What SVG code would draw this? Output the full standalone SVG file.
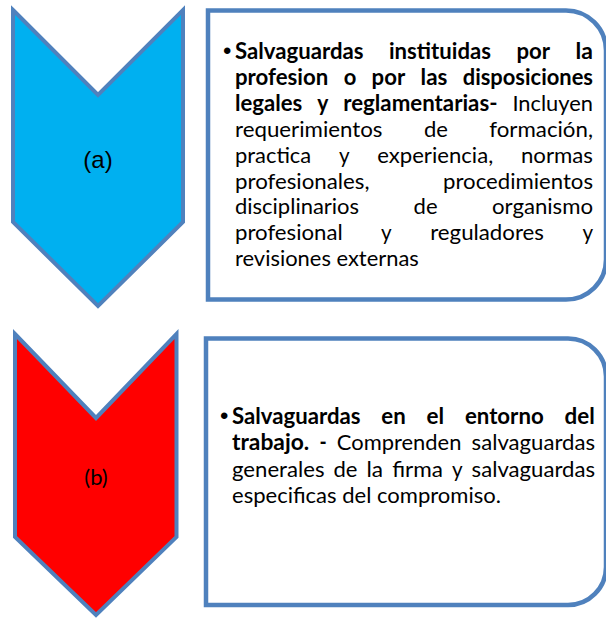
<svg xmlns="http://www.w3.org/2000/svg" width="606" height="621" viewBox="0 0 606 621">
<style>
.chev{stroke:#4F81BD;stroke-width:4;stroke-linejoin:miter}
.box{fill:#FFFFFF;stroke:#4F81BD;stroke-width:4.5}
.t{font-family:Lato,"Open Sans",sans-serif;font-size:22px;fill:#000}
.b{font-weight:bold}
.blt{font-family:"Liberation Sans",Arial,sans-serif;font-size:24px;fill:#000}
.lbl{font-family:"Liberation Sans",Arial,sans-serif;font-size:24px;text-anchor:middle;fill:#000}
.lblb{font-family:Lato,"Open Sans",sans-serif;font-size:22px;text-anchor:middle;fill:#000}
</style>
<rect width="606" height="621" fill="#FFFFFF"/>
<g id="connectors"></g>
<g id="chevron-a">
<path class="chev" fill="#00B0F0" d="M13,10 L98,95 L183,10 L183,222 L98,306 L13,222 Z"/>
<text class="lbl" x="98" y="168">(a)</text>
</g>
<g id="box-a">
<path class="box" d="M208,10.5 H566 A40,40 0 0 1 606,50.5 V259.5 A40,40 0 0 1 566,299.5 H208 Z"/>
<text class="blt" x="223" y="59">•</text>
<text class="t b" x="235" y="59" textLength="128.5" lengthAdjust="spacingAndGlyphs">Salvaguardas</text>
<text class="t b" x="389" y="59" textLength="101.9" lengthAdjust="spacingAndGlyphs">instituidas</text>
<text class="t b" x="516.4" y="59" textLength="33.6" lengthAdjust="spacingAndGlyphs">por</text>
<text class="t b" x="575.5" y="59" textLength="17.4" lengthAdjust="spacingAndGlyphs">la</text>

<text class="t b" x="235" y="84.9" textLength="93.3" lengthAdjust="spacingAndGlyphs">profesion</text>
<text class="t b" x="343.7" y="84.9" textLength="12.6" lengthAdjust="spacingAndGlyphs">o</text>
<text class="t b" x="371.6" y="84.9" textLength="33.6" lengthAdjust="spacingAndGlyphs">por</text>
<text class="t b" x="420.6" y="84.9" textLength="26.8" lengthAdjust="spacingAndGlyphs">las</text>
<text class="t b" x="462.7" y="84.9" textLength="130.3" lengthAdjust="spacingAndGlyphs">disposiciones</text>

<text class="t b" x="235" y="110.8" textLength="67.3" lengthAdjust="spacingAndGlyphs">legales</text>
<text class="t b" x="317.2" y="110.8" textLength="11.1" lengthAdjust="spacingAndGlyphs">y</text>
<text class="t b" x="343.2" y="110.8" textLength="154.3" lengthAdjust="spacingAndGlyphs">reglamentarias-</text>
<text class="t" x="512.4" y="110.8" textLength="80.6" lengthAdjust="spacingAndGlyphs">Incluyen</text>

<text class="t" x="235" y="136.7" textLength="147.5" lengthAdjust="spacingAndGlyphs">requerimientos</text>
<text class="t" x="423.9" y="136.7" textLength="24" lengthAdjust="spacingAndGlyphs">de</text>
<text class="t" x="489.3" y="136.7" textLength="103.7" lengthAdjust="spacingAndGlyphs">formación,</text>

<text class="t" x="235" y="162.6" textLength="76.2" lengthAdjust="spacingAndGlyphs">practica</text>
<text class="t" x="338.9" y="162.6" textLength="10.6" lengthAdjust="spacingAndGlyphs">y</text>
<text class="t" x="377.2" y="162.6" textLength="116" lengthAdjust="spacingAndGlyphs">experiencia,</text>
<text class="t" x="520.9" y="162.6" textLength="72.1" lengthAdjust="spacingAndGlyphs">normas</text>

<text class="t" x="235" y="188.5" textLength="134.5" lengthAdjust="spacingAndGlyphs">profesionales,</text>
<text class="t" x="443.1" y="188.5" textLength="149.9" lengthAdjust="spacingAndGlyphs">procedimientos</text>

<text class="t" x="235" y="214.4" textLength="124.1" lengthAdjust="spacingAndGlyphs">disciplinarios</text>
<text class="t" x="413.6" y="214.4" textLength="24" lengthAdjust="spacingAndGlyphs">de</text>
<text class="t" x="492" y="214.4" textLength="101" lengthAdjust="spacingAndGlyphs">organismo</text>

<text class="t" x="235" y="240.3" textLength="107.7" lengthAdjust="spacingAndGlyphs">profesional</text>
<text class="t" x="381.1" y="240.3" textLength="10.6" lengthAdjust="spacingAndGlyphs">y</text>
<text class="t" x="430.2" y="240.3" textLength="113.8" lengthAdjust="spacingAndGlyphs">reguladores</text>
<text class="t" x="582.4" y="240.3" textLength="10.6" lengthAdjust="spacingAndGlyphs">y</text>

<text class="t" x="235" y="266.2" textLength="183.8" lengthAdjust="spacingAndGlyphs">revisiones externas</text>
</g>
<g id="chevron-b">
<path class="chev" fill="#FF0000" d="M15,334 L96,418 L176.5,334 L176.5,537 L96,615 L15,537 Z"/>
<text class="lblb" x="96" y="485">(b)</text>
</g>
<g id="box-b">
<path class="box" d="M206,338.5 H568 A38,38 0 0 1 606,376.5 V567 A38,38 0 0 1 568,605 H206 Z"/>
<text class="blt" x="220" y="423.5">•</text>
<text class="t b" x="232" y="423.5" textLength="128.5" lengthAdjust="spacingAndGlyphs">Salvaguardas</text>
<text class="t b" x="381.3" y="423.5" textLength="24.4" lengthAdjust="spacingAndGlyphs">en</text>
<text class="t b" x="426.5" y="423.5" textLength="17.6" lengthAdjust="spacingAndGlyphs">el</text>
<text class="t b" x="464.9" y="423.5" textLength="78.8" lengthAdjust="spacingAndGlyphs">entorno</text>
<text class="t b" x="564.5" y="423.5" textLength="30.2" lengthAdjust="spacingAndGlyphs">del</text>

<text class="t b" x="232" y="450" textLength="77.2" lengthAdjust="spacingAndGlyphs">trabajo.</text>
<text class="t b" x="319.4" y="450" textLength="7.2" lengthAdjust="spacingAndGlyphs">-</text>
<text class="t" x="336.8" y="450" textLength="124.6" lengthAdjust="spacingAndGlyphs">Comprenden</text>
<text class="t" x="471.6" y="450" textLength="123.4" lengthAdjust="spacingAndGlyphs">salvaguardas</text>

<text class="t" x="232" y="476.5" textLength="92.5" lengthAdjust="spacingAndGlyphs">generales</text>
<text class="t" x="333.5" y="476.5" textLength="24" lengthAdjust="spacingAndGlyphs">de</text>
<text class="t" x="366.5" y="476.5" textLength="16.6" lengthAdjust="spacingAndGlyphs">la</text>
<text class="t" x="392.2" y="476.5" textLength="50.8" lengthAdjust="spacingAndGlyphs">firma</text>
<text class="t" x="452" y="476.5" textLength="10.6" lengthAdjust="spacingAndGlyphs">y</text>
<text class="t" x="471.6" y="476.5" textLength="123.4" lengthAdjust="spacingAndGlyphs">salvaguardas</text>

<text class="t" x="232" y="503" textLength="268.9" lengthAdjust="spacingAndGlyphs">especificas del compromiso.</text>
</g>
</svg>
